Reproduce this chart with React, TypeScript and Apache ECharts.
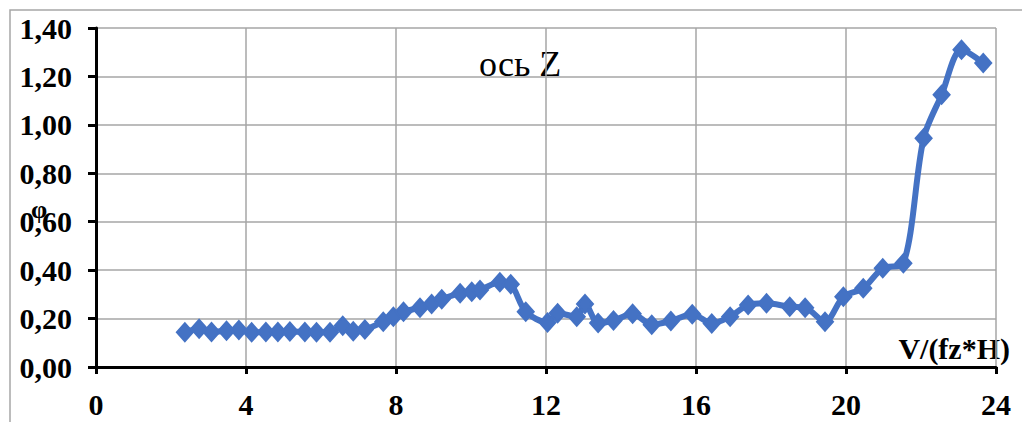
import React, { useEffect, useRef } from "react";
import * as echarts from "echarts";

// V/(fz*H) values along the Z axis
const speedRatio = [
  2.37, 2.75, 3.08, 3.48, 3.81, 4.15, 4.53, 4.85, 5.17, 5.57, 5.88, 6.24, 6.58,
  6.86, 7.17, 7.66, 7.93, 8.2, 8.64, 8.95, 9.22, 9.71, 10.02, 10.24, 10.77,
  11.06, 11.46, 12.04, 12.31, 12.82, 13.04, 13.39, 13.8, 14.31, 14.82, 15.33,
  15.9, 16.42, 16.91, 17.39, 17.88, 18.5, 18.91, 19.44, 19.93, 20.46, 20.98,
  21.53, 22.07, 22.55, 23.08, 23.66,
];

// φ measured at each point
const phi = [
  0.143, 0.158, 0.145, 0.15, 0.153, 0.143, 0.145, 0.145, 0.147, 0.145, 0.143,
  0.143, 0.17, 0.148, 0.155, 0.187, 0.208, 0.228, 0.245, 0.26, 0.28, 0.305,
  0.311, 0.318, 0.35, 0.342, 0.228, 0.184, 0.222, 0.208, 0.26, 0.182, 0.192,
  0.22, 0.175, 0.19, 0.218, 0.18, 0.208, 0.256, 0.263, 0.249, 0.245, 0.187,
  0.29, 0.325, 0.408, 0.428, 0.945, 1.124, 1.31, 1.255,
];

const chartTitle = "ось Z";
const xAxisTitle = "V/(fz*H)";
const yAxisTitle = "φ";

const SERIF = '"Liberation Serif", "Times New Roman", serif';
const BLUE = "#4472C4";
const GRID = "#A6A6A6";

export default function App() {
  const ref = useRef<HTMLDivElement>(null);

  useEffect(() => {
    if (!ref.current) return;
    const chart = echarts.init(ref.current, null, { renderer: "svg" });
    const points = speedRatio.map((x, i) => [x, phi[i]]);

    chart.setOption({
      animation: false,
      backgroundColor: "#ffffff",
      grid: { left: 96, right: 26, top: 28, bottom: 55, containLabel: false },
      xAxis: {
        type: "value",
        min: 0,
        max: 24,
        interval: 4,
        axisLine: { show: true, onZero: false, lineStyle: { color: "#000", width: 3 } },
        axisTick: { show: true, length: 7, lineStyle: { color: "#000", width: 3 } },
        axisLabel: {
          margin: 22,
          color: "#000",
          fontFamily: SERIF,
          fontWeight: "bold",
          fontSize: 30,
        },
        splitLine: { show: true, lineStyle: { color: GRID, width: 1.5 } },
      },
      yAxis: {
        type: "value",
        min: 0,
        max: 1.4,
        interval: 0.2,
        axisLine: { show: true, lineStyle: { color: "#000", width: 3 } },
        axisTick: { show: true, length: 8, lineStyle: { color: "#000", width: 3 } },
        axisLabel: {
          margin: 24,
          color: "#000",
          fontFamily: SERIF,
          fontWeight: "bold",
          fontSize: 30,
          formatter: (v: number) => v.toFixed(2).replace(".", ","),
        },
        splitLine: { show: true, lineStyle: { color: GRID, width: 1.5 } },
      },
      series: [
        {
          type: "line",
          data: points,
          smooth: 0.3,
          symbol: "diamond",
          symbolSize: [16, 18],
          showAllSymbol: true,
          lineStyle: { color: BLUE, width: 6 },
          itemStyle: { color: BLUE, borderColor: BLUE, borderWidth: 2 },
          z: 5,
        },
      ],
      graphic: [
        {
          type: "rect",
          silent: true,
          shape: { x: 10, y: 10, width: 1040, height: 440 },
          style: { fill: "none", stroke: GRID, lineWidth: 1.5 },
          z: -1,
        },
        {
          type: "text",
          x: 479,
          y: 64,
          style: {
            text: chartTitle,
            font: `36px ${SERIF}`,
            fill: "#000",
            textAlign: "left",
            textVerticalAlign: "middle",
          },
        },
        {
          type: "text",
          x: 1010,
          y: 348,
          style: {
            text: xAxisTitle,
            font: `bold 30px ${SERIF}`,
            fill: "#000",
            textAlign: "right",
            textVerticalAlign: "middle",
          },
        },
        {
          type: "text",
          x: 39,
          y: 209,
          style: {
            text: yAxisTitle,
            font: `bold 26px ${SERIF}`,
            fill: "#000",
            textAlign: "center",
            textVerticalAlign: "middle",
          },
        },
      ],
    });

    return () => chart.dispose();
  }, []);

  return (
    <div
      ref={ref}
      style={{ position: "fixed", left: 0, top: 0, width: 1022, height: 422 }}
    />
  );
}
